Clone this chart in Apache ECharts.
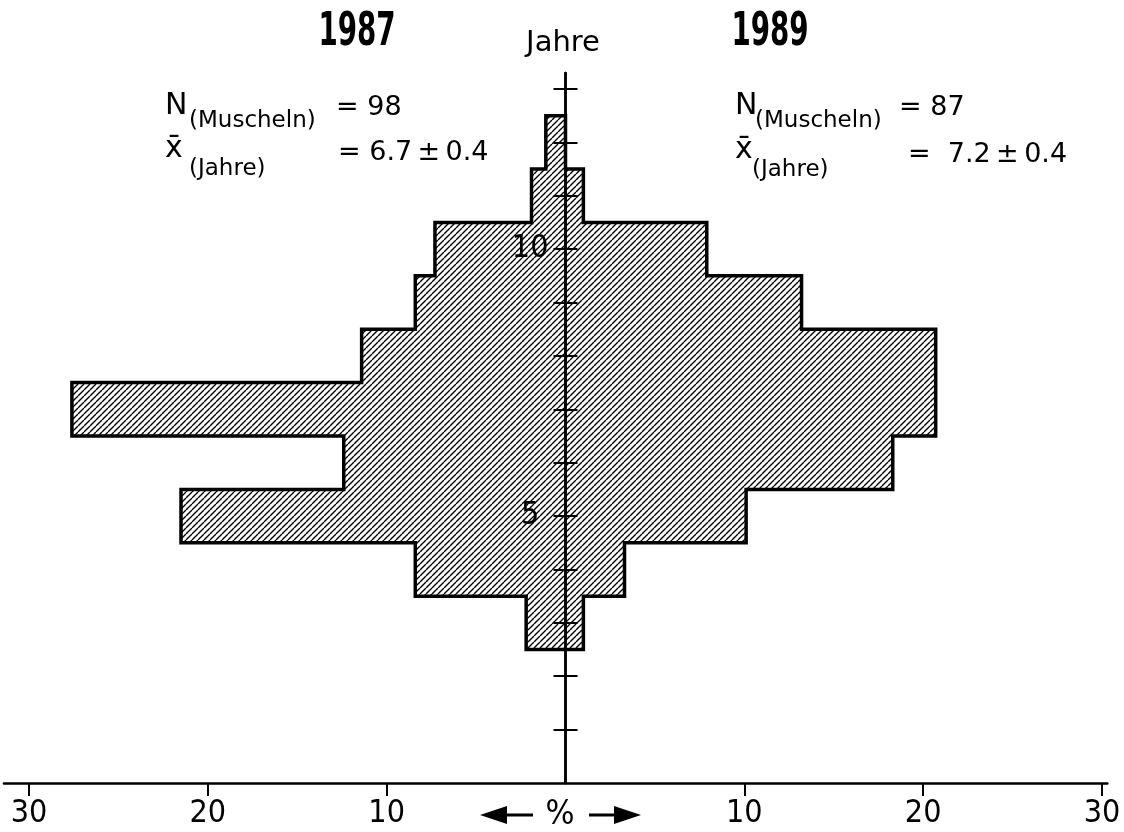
<!DOCTYPE html>
<html>
<head>
<meta charset="utf-8">
<script src="https://cdn.jsdelivr.net/npm/echarts@6/dist/echarts.min.js"></script>
<style>html,body{margin:0;padding:0;background:#fff}#c{width:1124px;height:832px}</style>
</head>
<body>
<div id="c"></div>
<script>
// ---- data ----
const ageYears  = [3, 4, 5, 6, 7, 8, 9, 10, 11, 12];
const share1987 = [2.2, 8.4, 21.5, 12.4, 27.6, 11.4, 8.4, 7.3, 1.9, 1.1];   // % (left)
const share1989 = [1.0, 3.3, 10.1, 18.3, 20.7, 20.7, 13.2, 7.9, 1.0, 0];    // % (right)
const xTickValues = [-30, -20, -10, 10, 20, 30];
const yTickValues = [1, 2, 3, 4, 5, 6, 7, 8, 9, 10, 11, 12, 13];
const yLabelValues = [5, 10];

const NUM_FONT = '"Liberation Sans Narrow", "DejaVu Sans Condensed", "Liberation Sans", sans-serif';
const TXT_FONT = '"DejaVu Sans", "Noto Sans", sans-serif';

function makeHatch() {
  const s = 6;
  const c = document.createElement('canvas');
  c.width = s; c.height = s;
  const g = c.getContext('2d');
  g.strokeStyle = '#000';
  g.lineWidth = 1.4;
  g.beginPath();
  for (const o of [-s, 0, s]) { g.moveTo(o, s); g.lineTo(o + s, 0); }
  g.stroke();
  return c;
}
const hatch = makeHatch();

// outline of the histogram, built from the data
const outline = [];
for (let i = 0; i < ageYears.length; i++) {
  outline.push([-share1987[i], ageYears[i] - 0.5]);
  outline.push([-share1987[i], ageYears[i] + 0.5]);
}
for (let i = ageYears.length - 1; i >= 0; i--) {
  outline.push([share1989[i], ageYears[i] + 0.5]);
  outline.push([share1989[i], ageYears[i] - 0.5]);
}
outline.push(outline[0]);

const chart = echarts.init(document.getElementById('c'), null, {renderer: 'canvas'});

function txt(text, x, y, size, opts, extra) {
  return Object.assign({
    type: 'text', x: x, y: y, silent: true, z: 20,
    style: Object.assign({text: text, fontSize: size, fontFamily: TXT_FONT, fill: '#000',
      align: 'left', verticalAlign: 'middle'}, opts || {})
  }, extra || {});
}

chart.setOption({
  animation: false,
  backgroundColor: '#fff',
  grid: {left: 3.96, right: 16.64, top: 73, bottom: 49, containLabel: false, outerBoundsMode: 'none'},
  xAxis: {
    type: 'value', min: -31.4, max: 30.3, position: 'bottom',
    axisLine: {onZero: false, lineStyle: {color: '#000', width: 2.5}},
    axisTick: {customValues: xTickValues, length: 13, lineStyle: {color: '#000', width: 2}},
    axisLabel: {customValues: xTickValues, formatter: v => String(Math.abs(v)), margin: 15,
      fontSize: 32, fontFamily: NUM_FONT, color: '#000'},
    splitLine: {show: false}
  },
  yAxis: [{
    type: 'value', min: 0, max: 13.3, position: 'left', z: 10,
    axisLine: {show: true, onZero: true, onZeroAxisIndex: 0, lineStyle: {color: '#000', width: 2.5}},
    axisTick: {show: true, customValues: yTickValues, length: 12, inside: false, lineStyle: {color: '#000', width: 2}},
    axisLabel: {show: false},
    splitLine: {show: false}
  }, {
    type: 'value', min: 0, max: 13.3, position: 'left', z: 10,
    axisLine: {show: true, onZero: true, onZeroAxisIndex: 0, lineStyle: {color: '#000', width: 2.5}},
    axisTick: {show: true, customValues: yTickValues, length: 12, inside: true, lineStyle: {color: '#000', width: 2}},
    axisLabel: {show: false},
    splitLine: {show: false}
  }],
  series: [{
    type: 'custom',
    z: 2,
    data: ageYears.map((y, i) => [y, share1987[i], share1989[i]]),
    encode: {y: 0, x: [1, 2]},
    renderItem: function (params, api) {
      const y = api.value(0);
      const p1 = api.coord([-api.value(1), y + 0.5]);
      const p2 = api.coord([api.value(2), y - 0.5]);
      const x0 = Math.round(p1[0]), y0 = Math.round(p1[1]);
      const x1 = Math.round(p2[0]), y1 = Math.round(p2[1]);
      return {type: 'rect', shape: {x: x0, y: y0, width: x1 - x0, height: y1 - y0},
        style: {fill: {image: hatch, repeat: 'repeat'}, stroke: null}};
    }
  }, {
    type: 'line',
    z: 4,
    data: outline,
    symbol: 'none',
    silent: true,
    lineStyle: {color: '#000', width: 3.5, join: 'miter', cap: 'square'}
  }, {
    // year labels (5, 10) placed on the vertical axis
    type: 'custom',
    z: 12,
    silent: true,
    data: yLabelValues.map(v => [0, v]),
    encode: {x: 0, y: 1},
    renderItem: function (params, api) {
      const p = api.coord([api.value(0), api.value(1)]);
      const v = api.value(1);
      return {type: 'text', x: p[0] - 17, y: p[1],
        style: {text: v === 5 ? '5 ' : String(v), fontSize: 32, fontFamily: NUM_FONT, fill: '#000',
          align: 'right', verticalAlign: 'middle'}};
    }
  }],
  graphic: [
    txt('1987', 357, 33, 46, {align: 'center', fontFamily: NUM_FONT, fontWeight: 'bold'}, {scaleX: 0.67}),
    txt('1989', 770, 33, 46, {align: 'center', fontFamily: NUM_FONT, fontWeight: 'bold'}, {scaleX: 0.67}),
    txt('Jahre', 563, 43, 29, {align: 'center'}),

    txt('N', 165, 106.6, 30),
    txt('(Muscheln)', 189, 121, 23),
    txt('= 98', 336, 107.7, 27),
    txt('x\u0304', 165, 149.6, 30),
    txt('(Jahre)', 189, 169, 23),
    txt('= 6.7\u2009\u00b1\u20090.4', 338, 152.7, 27),

    txt('N', 735, 106.6, 30),
    txt('(Muscheln)', 755, 121, 23),
    txt('= 87', 899, 107.7, 27),
    txt('x\u0304', 735, 150.6, 30),
    txt('(Jahre)', 752, 170, 23),
    txt('=  7.2\u2009\u00b1\u20090.4', 908, 154.7, 27),

    txt('%', 560, 815, 34, {align: 'center', fontFamily: NUM_FONT}),
    {type: 'line', silent: true, shape: {x1: 500, y1: 815, x2: 533, y2: 815}, style: {stroke: '#000', lineWidth: 3}},
    {type: 'polygon', silent: true, shape: {points: [[480, 815], [507, 806], [507, 824]]}, style: {fill: '#000'}},
    {type: 'line', silent: true, shape: {x1: 589, y1: 815, x2: 620, y2: 815}, style: {stroke: '#000', lineWidth: 3}},
    {type: 'polygon', silent: true, shape: {points: [[641, 815], [614, 806], [614, 824]]}, style: {fill: '#000'}}
  ]
});
</script>
</body>
</html>
